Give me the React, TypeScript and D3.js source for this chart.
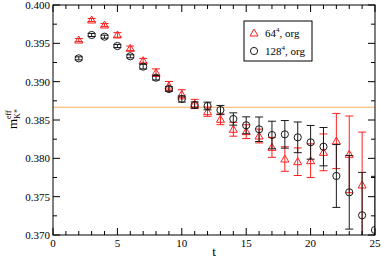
import React, { useRef, useEffect } from "react";
import * as d3 from "d3";

const width = 382;
const height = 259;
const margin = { left: 53, right: 7, top: 5, bottom: 24 };

const tBlack = [2, 3, 4, 5, 6, 7, 8, 9, 10, 11, 12, 13, 14, 15, 16, 17, 18, 19, 20, 21, 22, 23, 24, 25];
const mBlack = [0.39304, 0.39609, 0.39587, 0.39465, 0.39331, 0.39196, 0.39052, 0.38904, 0.38774, 0.38696, 0.38683, 0.3863, 0.38513, 0.38431, 0.38379, 0.38304, 0.38313, 0.38274, 0.38209, 0.38152, 0.3777, 0.37557, 0.37257, 0.37065];
const eBlack = [0.0002, 0.0002, 0.0002, 0.0002, 0.0002, 0.0003, 0.0003, 0.0003, 0.0004, 0.0004, 0.0005, 0.0006, 0.0008, 0.0011, 0.0016, 0.0018, 0.0018, 0.002, 0.0022, 0.0025, 0.0041, 0.0048, 0.0056, 0.007];

const tRed = [2, 3, 4, 5, 6, 7, 8, 9, 10, 11, 12, 13, 14, 15, 16, 17, 18, 19, 20, 21, 22, 23, 24];
const mRed = [0.39543, 0.39804, 0.39739, 0.39609, 0.39435, 0.39274, 0.39117, 0.38943, 0.38835, 0.38709, 0.38608, 0.38509, 0.38379, 0.38348, 0.38291, 0.38143, 0.37991, 0.37956, 0.37969, 0.38078, 0.38226, 0.38052, 0.37652];
const eRed = [0.0002, 0.0002, 0.0002, 0.0003, 0.0003, 0.0003, 0.0005, 0.0006, 0.0006, 0.0006, 0.0006, 0.0007, 0.0009, 0.0009, 0.0009, 0.0013, 0.0016, 0.0018, 0.0022, 0.0024, 0.0036, 0.005, 0.0069];

const refLine = 0.38666;

const xTicks = [0, 5, 10, 15, 20, 25];
const yTicks = [0.37, 0.375, 0.38, 0.385, 0.39, 0.395, 0.4];

const font = "'Liberation Serif', 'Times New Roman', serif";

export default function App() {
  const ref = useRef<SVGSVGElement | null>(null);

  useEffect(() => {
    const svg = d3.select(ref.current);
    svg.selectAll("*").remove();

    const x = d3.scaleLinear().domain([0, 25]).range([margin.left, width - margin.right]);
    const y = d3.scaleLinear().domain([0.37, 0.4]).range([height - margin.bottom, margin.top]);
    const x0 = x(0), x1 = x(25), y0 = y(0.37), y1 = y(0.4);

    svg.append("defs").append("clipPath").attr("id", "plotclip")
      .append("rect").attr("x", x0).attr("y", y1).attr("width", x1 - x0).attr("height", y0 - y1);

    // reference line
    svg.append("line")
      .attr("x1", x0).attr("x2", x1)
      .attr("y1", y(refLine)).attr("y2", y(refLine))
      .attr("stroke", "#f9b45a").attr("stroke-width", 1);

    const plot = svg.append("g").attr("clip-path", "url(#plotclip)");

    const drawSeries = (ts: number[], ms: number[], es: number[], color: string, shape: "tri" | "circ") => {
      const g = plot.append("g").attr("stroke", color).attr("fill", "none").attr("stroke-width", 1);
      ts.forEach((t, i) => {
        const cx = x(t);
        const top = y(ms[i] + es[i]);
        const bot = y(ms[i] - es[i]);
        g.append("line").attr("x1", cx).attr("x2", cx).attr("y1", top).attr("y2", bot);
        g.append("line").attr("x1", cx - 4).attr("x2", cx + 4).attr("y1", top).attr("y2", top);
        g.append("line").attr("x1", cx - 4).attr("x2", cx + 4).attr("y1", bot).attr("y2", bot);
        const cy = y(ms[i]);
        if (shape === "circ") {
          g.append("circle").attr("cx", cx).attr("cy", cy).attr("r", 3.6);
        } else {
          g.append("path").attr("d", `M${cx},${cy - 4}L${cx + 4},${cy + 3}L${cx - 4},${cy + 3}Z`);
        }
      });
    };

    drawSeries(tRed, mRed, eRed, "#ff2020", "tri");
    drawSeries(tBlack, mBlack, eBlack, "#1a1a1a", "circ");

    // frame
    svg.append("rect")
      .attr("x", x0).attr("y", y1).attr("width", x1 - x0).attr("height", y0 - y1)
      .attr("fill", "none").attr("stroke", "#000").attr("stroke-width", 1);

    const ticks = svg.append("g").attr("stroke", "#000").attr("stroke-width", 1);
    d3.range(0, 26, 1).forEach((t) => {
      const len = t % 5 === 0 ? 7 : 4;
      ticks.append("line").attr("x1", x(t)).attr("x2", x(t)).attr("y1", y0).attr("y2", y0 - len);
      ticks.append("line").attr("x1", x(t)).attr("x2", x(t)).attr("y1", y1).attr("y2", y1 + len);
    });
    d3.range(0, 13, 1).forEach((k) => {
      const v = 0.37 + k * 0.0025;
      const len = k % 2 === 0 ? 7 : 4;
      ticks.append("line").attr("x1", x0).attr("x2", x0 + len).attr("y1", y(v)).attr("y2", y(v));
      ticks.append("line").attr("x1", x1).attr("x2", x1 - len).attr("y1", y(v)).attr("y2", y(v));
    });

    // tick labels
    svg.append("g").selectAll("text").data(xTicks).enter().append("text")
      .attr("x", (d) => x(d)).attr("y", y0 + 12)
      .attr("text-anchor", "middle").attr("font-family", font).attr("font-size", 11)
      .text((d) => d);
    svg.append("g").selectAll("text").data(yTicks).enter().append("text")
      .attr("x", x0 - 3).attr("y", (d) => y(d) + 4)
      .attr("text-anchor", "end").attr("font-family", font).attr("font-size", 11)
      .text((d) => d3.format(".3f")(d));

    // axis labels
    svg.append("text").attr("x", 214).attr("y", 256)
      .attr("text-anchor", "middle").attr("font-family", font).attr("font-size", 13)
      .text("t");

    const yl = svg.append("text")
      .attr("transform", "translate(17,129) rotate(-90)")
      .attr("font-family", font).attr("font-size", 13);
    yl.append("tspan").text("m");
    yl.append("tspan").attr("font-size", 8).attr("dy", 3).text("K*");
    yl.append("tspan").attr("font-size", 8).attr("dx", -10).attr("dy", -9).text("eff");

    // legend
    const lg = svg.append("g");
    lg.append("rect").attr("x", 244).attr("y", 21).attr("width", 68).attr("height", 40)
      .attr("fill", "#fff").attr("stroke", "#000").attr("stroke-width", 1);
    lg.append("path").attr("d", "M254,29L258,36L250,36Z").attr("fill", "none").attr("stroke", "#ff2020");
    lg.append("circle").attr("cx", 254).attr("cy", 51).attr("r", 3.6).attr("fill", "none").attr("stroke", "#1a1a1a");
    const row = (yy: number, num: string) => {
      const t = lg.append("text").attr("x", 265).attr("y", yy).attr("font-family", font).attr("font-size", 11);
      t.append("tspan").text(num);
      t.append("tspan").attr("font-size", 7).attr("dy", -5).text("4");
      t.append("tspan").attr("dy", 5).text(", org");
    };
    row(37, "64");
    row(55, "128");
  }, []);

  return (
    <div style={{ position: "fixed", left: 0, top: 0 }}>
      <svg ref={ref} width={width} height={height} style={{ display: "block", background: "#fff" }} />
    </div>
  );
}
